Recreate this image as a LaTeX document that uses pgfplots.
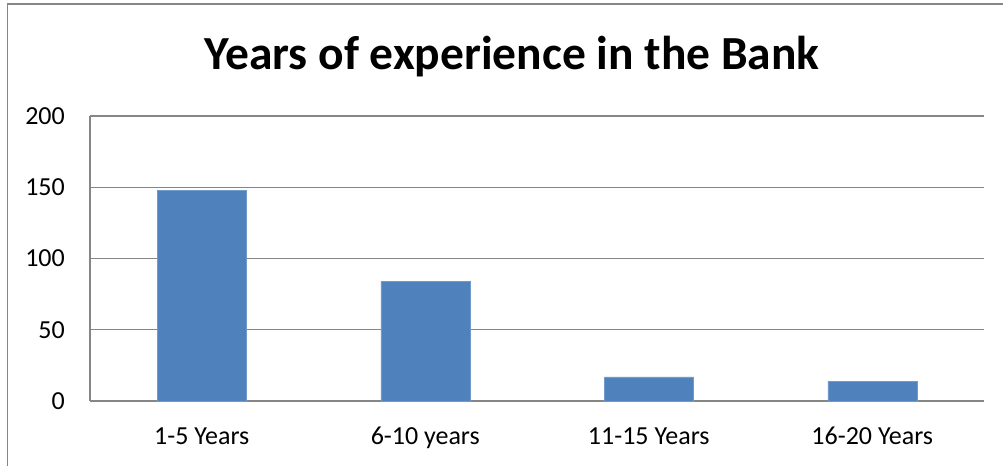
\documentclass[border=0pt]{standalone}
\usepackage{fontspec}
\setmainfont{Carlito}
\usepackage{pgfplots}
\pgfplotsset{compat=1.18}
\definecolor{barblue}{HTML}{4F81BD}
\definecolor{gridgray}{HTML}{868686}
\begin{document}
\begin{tikzpicture}[x=1pt,y=1pt]
\useasboundingbox (0,0) rectangle (1003,466);
\draw[gridgray, line width=1.5pt] (7.5,0) -- (7.5,462) -- (1003,462);
\begin{axis}[
  at={(90pt,65pt)}, anchor=south west,
  scale only axis, width=894pt, height=285pt,
  xmin=-0.5, xmax=3.5, ymin=0, ymax=200,
  xtick={0,1,2,3},
  xticklabels={1-5 Years,6-10 years,11-15 Years,16-20 Years},
  ytick={0,50,100,150,200},
  axis lines*=left,
  axis line style={gridgray, line width=1.3pt},
  ymajorgrids, grid style={gridgray, line width=1.3pt},
  major tick length=0pt,
  /pgf/number format/assume math mode=true,
  tick label style={font=\fontsize{26}{31}\selectfont, text=black},
  xticklabel style={anchor=base, inner sep=0pt, yshift=-43pt},
  yticklabel style={anchor=east, inner sep=0pt, xshift=-25pt},
  clip=false,
]
\addplot[ybar, bar width=89pt, fill=barblue, draw=barblue!80!white, line width=0.5pt] coordinates {(0,148) (1,84) (2,17) (3,14)};
\end{axis}
\node[anchor=base, inner sep=0pt, font=\fontsize{47.5}{57}\selectfont\bfseries] at (512,396) {Years of experience in the Bank};
\end{tikzpicture}
\end{document}
